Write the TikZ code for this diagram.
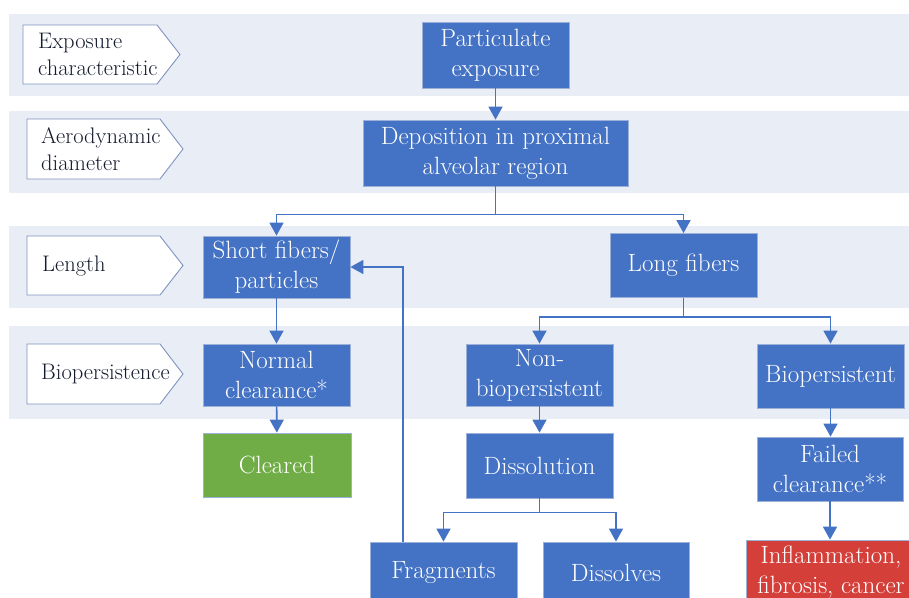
\documentclass[tikz,border=0pt]{standalone}
\usepackage{fontspec}
\usetikzlibrary{arrows.meta}
\definecolor{bandc}{HTML}{E9EDF6}
\definecolor{boxblue}{HTML}{4472C4}
\definecolor{boxedge}{HTML}{9DB0D8}
\definecolor{greenc}{HTML}{70AD47}
\definecolor{redc}{HTML}{D43F3A}
\definecolor{labtext}{HTML}{141A2E}
\definecolor{labedge}{HTML}{7F93BF}
\begin{document}
\begin{tikzpicture}[x=1pt,y=-1pt,
  band/.style={fill=bandc,draw=none},
  flowbox/.style={rectangle,fill=boxblue,draw=boxedge,line width=0.8pt,text=white,align=center,font=\fontsize{25}{30}\selectfont,inner sep=0pt},
  greenbox/.style={flowbox,fill=greenc},
  redbox/.style={flowbox,fill=redc},
  labshape/.style={fill=white,draw=labedge,line width=0.9pt},
  labtxt/.style={anchor=west,align=left,inner sep=0pt,text=labtext,font=\fontsize{22.5}{27}\selectfont},
  conn/.style={draw=boxblue,line width=1.6pt,-{Triangle[width=14pt,length=13pt]}}
]
\useasboundingbox (0,0) rectangle (909,597);
\clip (0,0) rectangle (909,597);
\fill[white] (0,0) rectangle (909,597);

% bands
\path[band] (9,14) rectangle (909,96);
\path[band] (9,111) rectangle (909,193);
\path[band] (9,226) rectangle (909,308);
\path[band] (9,326) rectangle (909,419);

% row labels
\path[labshape] (23,25) -- (157,25) -- (180,54.5) -- (157,84) -- (23,84) -- cycle;
\node[labtxt] (lexp) at (38,54.5) {Exposure\\characteristic};
\path[labshape] (27,119) -- (160,119) -- (183,149) -- (160,179) -- (27,179) -- cycle;
\node[labtxt] (laer) at (41,149) {Aerodynamic\\diameter};
\path[labshape] (27,236) -- (160,236) -- (183,265.5) -- (160,295) -- (27,295) -- cycle;
\node[labtxt] (llen) at (42,265.5) {Length};
\path[labshape] (27,344) -- (160,344) -- (183,374) -- (160,404) -- (27,404) -- cycle;
\node[labtxt] (lbio) at (41,374) {Biopersistence};

% boxes
\node[flowbox,minimum width=147pt,minimum height=66pt] (part) at (495.5,55) {Particulate\\exposure};
\node[flowbox,minimum width=265pt,minimum height=66pt] (dep) at (495.5,153) {Deposition in proximal\\alveolar region};
\node[flowbox,minimum width=147pt,minimum height=62pt] (short) at (276.5,267) {Short fibers/\\particles};
\node[flowbox,minimum width=147pt,minimum height=64pt] (long) at (683.5,265.5) {Long fibers};
\node[flowbox,minimum width=147pt,minimum height=62pt] (normal) at (276.5,375) {Normal\\clearance*};
\node[flowbox,minimum width=147pt,minimum height=62pt] (nonbio) at (539.5,375) {Non-\\biopersistent};
\node[flowbox,minimum width=147pt,minimum height=64pt] (bio) at (830.5,376) {Biopersistent};
\node[greenbox,minimum width=148pt,minimum height=64pt] (cleared) at (277,465) {Cleared};
\node[flowbox,minimum width=147pt,minimum height=65pt] (dissol) at (539.5,465.5) {Dissolution};
\node[flowbox,minimum width=146pt,minimum height=64pt] (failed) at (830,469) {Failed\\clearance**};
\node[flowbox,minimum width=147pt,minimum height=62pt] (frag) at (443.5,573) {Fragments};
\node[flowbox,minimum width=146pt,minimum height=62pt] (dissolves) at (616,573) {Dissolves};
\node[redbox,minimum width=170pt,minimum height=64pt] (inflam) at (831,572) {Inflammation,\\fibrosis, cancer};

% connectors
\draw[conn] (part) -- (dep);
\draw[conn] (dep.south) -- ++(0,28) -| (short.north);
\draw[conn] (dep.south) -- ++(0,28) -| (long.north);
\draw[conn] (short) -- (normal);
\draw[conn] (normal) -- (cleared);
\draw[conn] (long.south) -- ++(0,19) -| (nonbio.north);
\draw[conn] (long.south) -- ++(0,19) -| (bio.north);
\draw[conn] (nonbio) -- (dissol);
\draw[conn] (bio.south) -- (bio.south |- failed.north);
\draw[conn] (failed.south) -- (failed.south |- inflam.north);
\draw[conn] (dissol.south) -- ++(0,14) -| (frag.north);
\draw[conn] (dissol.south) -- ++(0,14) -| (dissolves.north);
\draw[conn] ([xshift=-40.5pt]frag.north) |- (short.east);
\end{tikzpicture}
\end{document}
